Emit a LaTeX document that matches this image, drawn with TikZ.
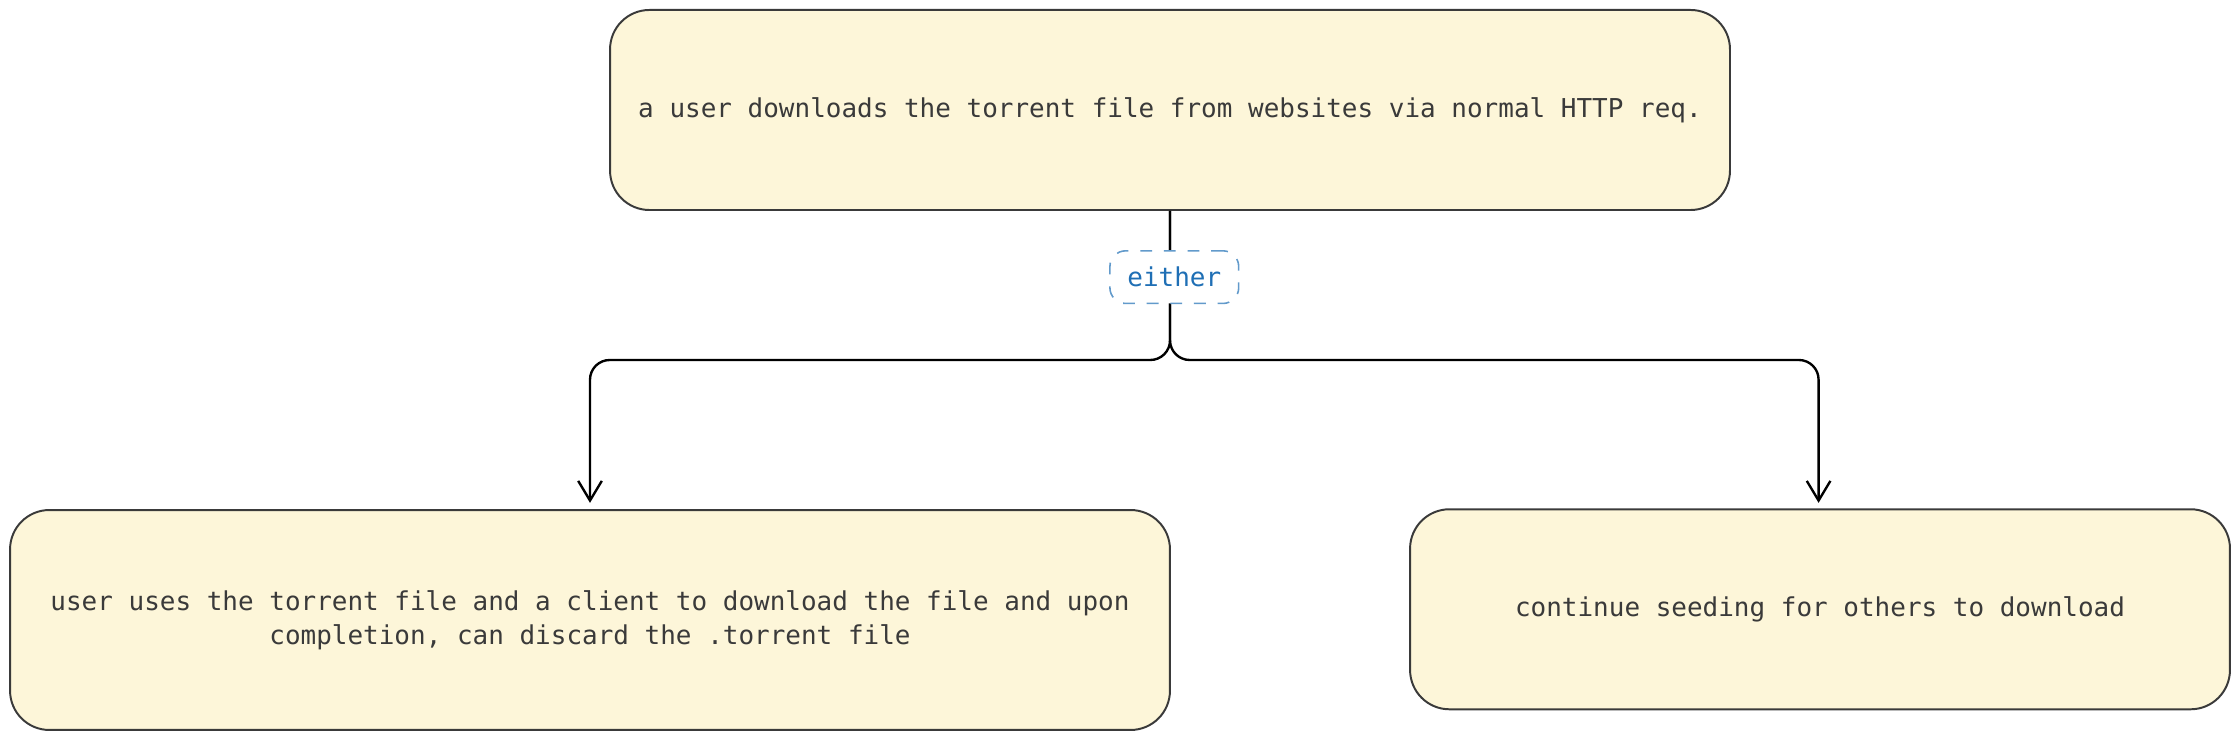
\documentclass[tikz,border=0pt]{standalone}
\usepackage{fontspec}
\setmonofont{DejaVu Sans Mono}
\usetikzlibrary{positioning,arrows.meta}
\definecolor{notefill}{HTML}{FDF6D9}
\definecolor{noteline}{HTML}{3A3A3A}
\definecolor{tagblue}{HTML}{1F6FB5}
\tikzset{
  note/.style={draw=noteline,fill=notefill,rounded corners=10pt,line width=0.5pt,
    font=\ttfamily\fontsize{6.6}{8.6}\selectfont,text=noteline,align=center,inner sep=0pt},
  link/.style={line width=0.6pt,rounded corners=5pt,-{Straight Barb[length=5pt,width=6pt]}},
  tag/.style={draw=tagblue!70,dashed,rounded corners=4pt,fill=white,text=tagblue,
    font=\ttfamily\fontsize{6.6}{8}\selectfont,minimum width=1.15cm,minimum height=0.47cm}
}
\begin{document}
\begin{tikzpicture}[x=0.012755cm,y=-0.012755cm]
\useasboundingbox (0,0) rectangle (1568,518);
% boxes
\node[note,minimum width=10cm,minimum height=1.786cm] (fetch) at (819,77) {a user downloads the torrent file from websites via normal HTTP req.};
\node[note,minimum width=10.357cm,minimum height=1.964cm] (discard) at (413,434) {user uses the torrent file and a client to download the file and upon\\completion, can discard the .torrent file};
\node[note,minimum width=7.321cm,minimum height=1.786cm] (seed) at (1274,426.5) {continue seeding for others to download};
\coordinate (split) at (819,252);
% connectors
\draw[link] (fetch.south) -- (split) -| (413,352);
\draw[link] (fetch.south) -- (split) -| (1273,352);
\node[tag] (either) at (822,194) {either};
\end{tikzpicture}
\end{document}
